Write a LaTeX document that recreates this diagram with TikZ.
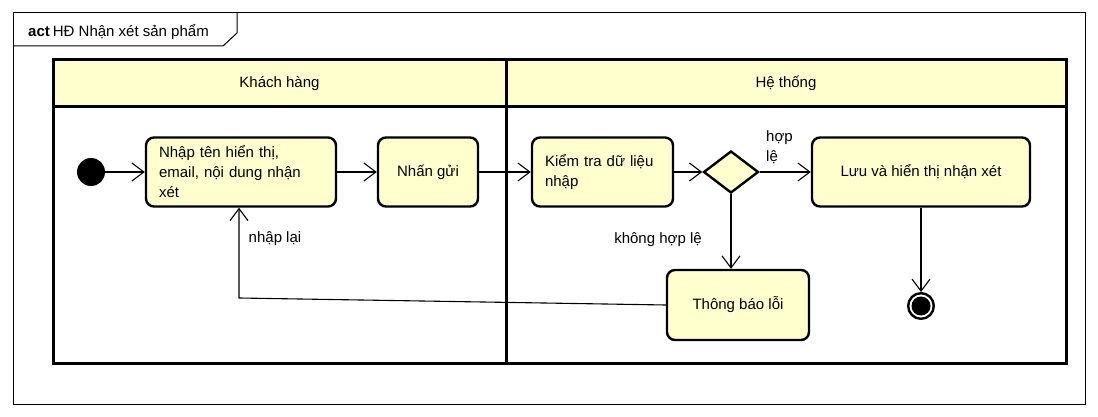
\documentclass[tikz,border=0pt]{standalone}
\usepackage{fontspec}
\setmainfont{Liberation Sans}
\usetikzlibrary{arrows.meta,calc,shapes.geometric,positioning}
\definecolor{umlyellow}{RGB}{255,255,206}
\tikzset{>={Straight Barb[length=12pt,width=18pt]}}
\tikzstyle{action}=[rectangle,draw=black,fill=umlyellow,line width=2.4pt,rounded corners=8pt,minimum height=69pt,inner sep=0pt]
\tikzstyle{decision}=[diamond,draw=black,fill=umlyellow,line width=2.4pt,minimum width=55pt,minimum height=42pt,inner sep=0pt]
\tikzstyle{lanehead}=[rectangle,draw=black,fill=umlyellow,line width=3pt,minimum height=47pt,inner sep=0pt]
\tikzstyle{startnode}=[circle,fill=black,minimum size=28pt,inner sep=0pt]
\tikzstyle{endnode}=[circle,draw=black,fill=white,line width=2.4pt,minimum size=25.6pt,inner sep=0pt,path picture={\fill[black] (path picture bounding box.center) circle (9.5pt);}]
\tikzstyle{flow}=[->,line width=1.1pt]

\begin{document}
\begin{tikzpicture}[x=1pt,y=-1pt,inner sep=1mm,font=\fontsize{15}{20}\selectfont]
	\def \rowy {172};
	\def \laneTop {60};
	\def \headBottom {107};
	\def \laneBottom {363};
	\def \laneLeft {53};
	\def \laneMid {506};
	\def \laneRight {1066};
	\useasboundingbox (0,0) rectangle (1098,417);
	
	% frame and title tab
	\draw[line width=1pt] (13,13) rectangle (1085,404);
	\draw[line width=1pt] (13,46) -- (223,46) -- (237,33) -- (237,13);
	\node[anchor=base west, inner sep=0pt] (title) at (28,37) {\textbf{act}\hspace{3pt}HĐ Nhận xét sản phẩm};
	
	% swimlanes
	\node[lanehead, minimum width=453pt] (customer) at ({(\laneLeft+\laneMid)/2}, {(\laneTop+\headBottom)/2}) {Khách hàng};
	\node[lanehead, minimum width=560pt] (system) at ({(\laneMid+\laneRight)/2}, {(\laneTop+\headBottom)/2}) {Hệ thống};
	\draw[line width=3pt] (\laneLeft, \headBottom) rectangle (\laneRight, \laneBottom);
	\draw[line width=3pt] (\laneMid, \headBottom) -- (\laneMid, \laneBottom);
	
	% nodes
	\node[startnode] (start) at (91, \rowy) {};
	\node[action, minimum width=190pt, text width=164pt, align=left] (input) at (241, \rowy) {Nhập tên hiển thị,\\email, nội dung nhận\\xét};
	\node[action, minimum width=100pt] (send) at (428, \rowy) {Nhấn gửi};
	\node[action, minimum width=141pt, text width=115pt, align=left] (check) at (602.5, \rowy) {Kiểm tra dữ liệu\\nhập};
	\node[decision] (valid) at (731, \rowy) {};
	\node[action, minimum width=218pt] (save) at (921, \rowy) {Lưu và hiển thị nhận xét};
	\node[action, minimum width=142pt, minimum height=70pt] (error) at (738, 305) {Thông báo lỗi};
	\node[endnode] (final) at (921, 306) {};
	
	% guards
	\node[anchor=west, align=left, inner sep=0pt] (oklab) at (766, 147) {hợp\\lệ};
	\node (faillab) at (658, 240) {không hợp lệ};
	\node (retrylab) at (275, 239) {nhập lại};
	
	\coordinate (back) at (239, 298);
	
	\draw[flow] (start) -- (input);
	\draw[flow] (input) -- (send);
	\draw[flow] (send) -- (check);
	\draw[flow] (check) -- (valid);
	\draw[flow] (valid) -- (save);
	\draw[flow] (valid) -- (valid |- error.north);
	\draw[flow] (save) -- (final);
	\draw[flow] (error.west) -- (back) -- (back |- input.south);
\end{tikzpicture}
\end{document}
